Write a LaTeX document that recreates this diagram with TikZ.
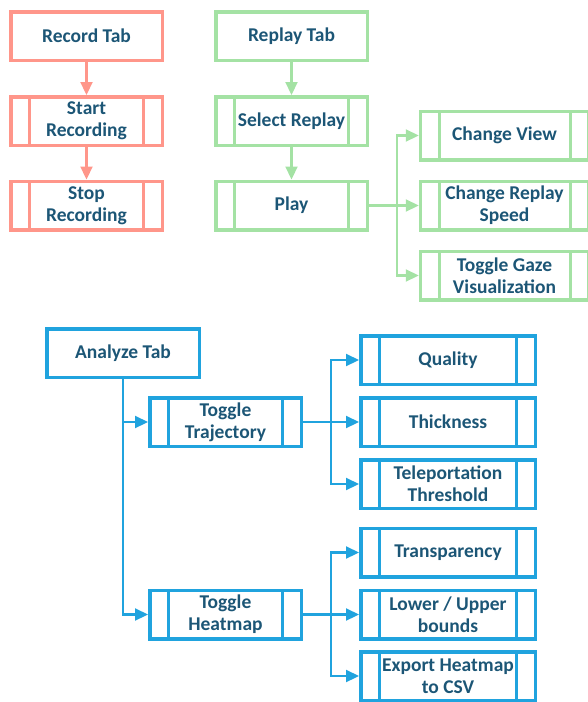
\documentclass[tikz,border=0pt]{standalone}
\usepackage{fontspec}
\setmainfont{Carlito}
\usetikzlibrary{arrows.meta}
\definecolor{redc}{RGB}{255,150,138}
\definecolor{greenc}{RGB}{164,226,164}
\definecolor{bluec}{RGB}{32,163,222}
\definecolor{textc}{RGB}{28,86,118}
\tikzset{
  box/.style={draw=#1, line width=3.5pt, minimum height=48.5pt, inner sep=0pt,
    align=center, font=\bfseries\fontsize{19.5}{22}\selectfont, text=textc},
  sub/.style={box=#1, path picture={
    \draw[#1, line width=3pt]
      ([xshift=18.5pt]path picture bounding box.north west) -- ([xshift=18.5pt]path picture bounding box.south west)
      ([xshift=-18.5pt]path picture bounding box.north east) -- ([xshift=-18.5pt]path picture bounding box.south east);}},
  arr/.style={draw=#1, line width=2.2pt, -{Triangle[length=13pt,width=12pt]}},
  ln/.style={draw=#1, line width=2.2pt}
}
\begin{document}
\begin{tikzpicture}[x=1pt,y=-1pt]
\useasboundingbox (0,0) rectangle (587,702);
% red
\node[box=redc, minimum width=151.5pt] (rec) at (86.5,36) {Record Tab};
\node[sub=redc, minimum width=151.5pt] (start) at (86.5,121) {Start\\Recording};
\node[sub=redc, minimum width=151.5pt] (stop) at (86.5,205.5) {Stop\\Recording};
\draw[arr=redc] (rec) -- (start);
\draw[arr=redc] (start) -- (stop);
% green
\node[box=greenc, minimum width=151.5pt] (rep) at (291.5,36) {Replay Tab};
\node[sub=greenc, minimum width=151.5pt] (sel) at (291.5,121) {Select Replay};
\node[sub=greenc, minimum width=151.5pt] (play) at (291.5,205.5) {Play};
\node[sub=greenc, minimum width=168pt] (cv) at (504.5,135.5) {Change View};
\node[sub=greenc, minimum width=168pt] (crs) at (504.5,205.5) {Change Replay\\Speed};
\node[sub=greenc, minimum width=168pt] (tg) at (504.5,275.5) {Toggle Gaze\\Visualization};
\coordinate (g1) at (397,205.5);
\draw[arr=greenc] (rep) -- (sel);
\draw[arr=greenc] (sel) -- (play);
\draw[arr=greenc] (play.east) -- (crs.west);
\draw[arr=greenc] (g1) |- (cv.west);
\draw[arr=greenc] (g1) |- (tg.west);
% blue
\node[box=bluec, minimum width=152.5pt] (an) at (123,353) {Analyze Tab};
\node[sub=bluec, minimum width=151.5pt] (tt) at (225.5,422) {Toggle\\Trajectory};
\node[sub=bluec, minimum width=151.5pt] (th) at (225.5,614.5) {Toggle\\Heatmap};
\node[sub=bluec, minimum width=174.5pt] (q) at (448,360) {Quality};
\node[sub=bluec, minimum width=174.5pt] (thk) at (448,422) {Thickness};
\node[sub=bluec, minimum width=174.5pt] (tel) at (448,484) {Teleportation\\Threshold};
\node[sub=bluec, minimum width=174.5pt] (tr) at (448,552.5) {Transparency};
\node[sub=bluec, minimum width=174.5pt] (lu) at (448,614.5) {Lower / Upper\\bounds};
\node[sub=bluec, minimum width=174.5pt] (ex) at (448,676) {Export Heatmap\\to CSV};
\draw[arr=bluec] (an.south) |- (tt.west);
\draw[arr=bluec] (an.south) |- (th.west);
\coordinate (b1) at (331,422);
\coordinate (b2) at (331,614.5);
\draw[arr=bluec] (tt.east) -- (thk.west);
\draw[arr=bluec] (b1) |- (q.west);
\draw[arr=bluec] (b1) |- (tel.west);
\draw[arr=bluec] (th.east) -- (lu.west);
\draw[arr=bluec] (b2) |- (tr.west);
\draw[arr=bluec] (b2) |- (ex.west);
\end{tikzpicture}
\end{document}
